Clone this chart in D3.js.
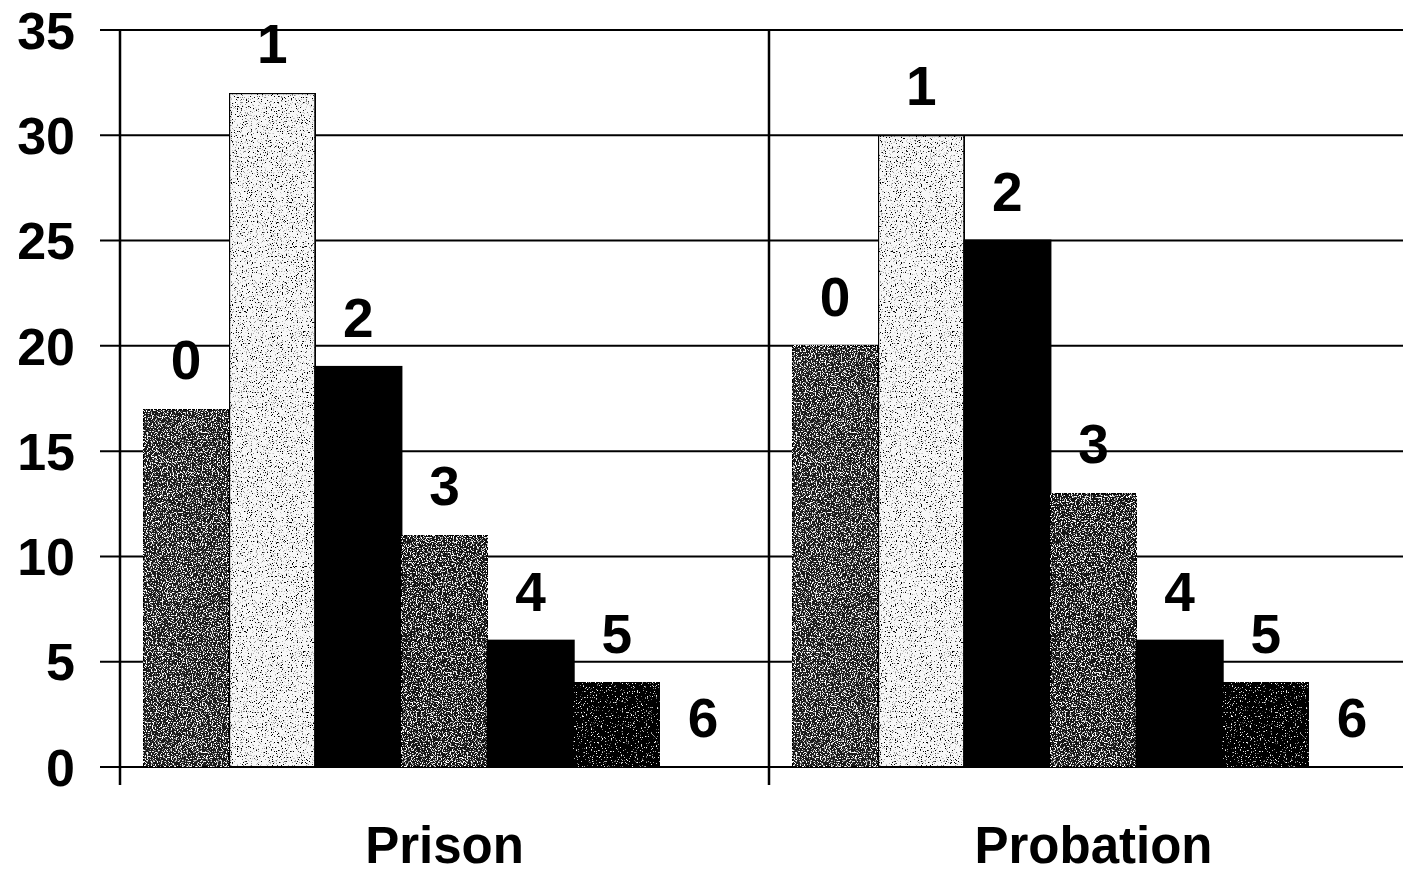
<!DOCTYPE html>
<html>
<head>
<meta charset="utf-8">
<script src="https://cdn.jsdelivr.net/npm/d3@7"></script>
<style>
  body { margin: 0; background: #fff; }
  svg { display: block; }
  text { font-family: "Liberation Sans", Arial, sans-serif; font-weight: bold; fill: #000; }
</style>
</head>
<body>
<div id="chart"></div>
<script>
var categories = ["Prison", "Probation"];
var groups = ["0", "1", "2", "3", "4", "5", "6"];
var prison = [17, 32, 19, 11, 6, 4, 0];
var probation = [20, 30, 25, 13, 6, 4, 0];
var yTicks = [0, 5, 10, 15, 20, 25, 30, 35];

// bar styles for each group: base fill, and speckle filter
var barFill = ["#1c1c1c", "#f7f7f7", "#000", "#161616", "#000", "#050505", "#fff"];
var barSpeckle = ["whiteDense", "blackSparse", null, "whiteDense", null, "whiteSparse", null];

var svgWidth = 1403;
var svgHeight = 874;

var svg = d3.select("#chart")
  .append("svg")
  .attr("width", svgWidth)
  .attr("height", svgHeight);

// speckle filters to mimic the scanned stipple fill
var defs = svg.append("defs");
function speckle(id, color, slope, offset) {
  var f = defs.append("filter").attr("id", id)
    .attr("x", 0).attr("y", 0).attr("width", 1).attr("height", 1);
  f.append("feTurbulence").attr("type", "fractalNoise")
    .attr("baseFrequency", 0.8).attr("numOctaves", 2).attr("seed", 3).attr("result", "noise");
  f.append("feColorMatrix").attr("in", "noise").attr("type", "matrix")
    .attr("values", "0 0 0 0 0  0 0 0 0 0  0 0 0 0 0  " + slope + " 0 0 0 " + offset)
    .attr("result", "mask");
  f.append("feFlood").attr("flood-color", color).attr("result", "col");
  f.append("feComposite").attr("in", "col").attr("in2", "mask").attr("operator", "in").attr("result", "dots");
  f.append("feComposite").attr("in", "dots").attr("in2", "SourceAlpha").attr("operator", "in").attr("result", "dotsClip");
  var m = f.append("feMerge");
  m.append("feMergeNode").attr("in", "SourceGraphic");
  m.append("feMergeNode").attr("in", "dotsClip");
}
speckle("whiteDense", "#fff", 9, -4.85);
speckle("whiteSparse", "#fff", 9, -5.8);
speckle("blackSparse", "#000", 9, -5.3);

var x0 = d3.scaleBand()
  .domain(categories)
  .range([120, 1418])
  .paddingInner(0)
  .paddingOuter(0);

var x1 = d3.scaleBand()
  .domain(groups)
  .range([0, x0.bandwidth()])
  .paddingInner(0)
  .paddingOuter(0.267);

var y = d3.scaleLinear()
  .domain([0, 35])
  .range([767, 30]);

// gridlines with left tick marks
svg.append("g").selectAll("line")
  .data(yTicks)
  .enter()
  .append("line")
  .attr("x1", 100)
  .attr("x2", svgWidth)
  .attr("y1", d => y(d))
  .attr("y2", d => y(d))
  .attr("stroke", "#000")
  .attr("stroke-width", 2);

// y tick labels
svg.append("g").selectAll("text")
  .data(yTicks)
  .enter()
  .append("text")
  .attr("x", 75)
  .attr("y", d => y(d))
  .attr("dy", "0.36em")
  .attr("text-anchor", "end")
  .style("font-size", "52px")
  .text(d => d);

// vertical axis and category dividers
svg.append("g").selectAll("line")
  .data(categories.concat(["end"]))
  .enter()
  .append("line")
  .attr("x1", (d, i) => i < categories.length ? x0(d) : x0.range()[1])
  .attr("x2", (d, i) => i < categories.length ? x0(d) : x0.range()[1])
  .attr("y1", y(35))
  .attr("y2", y(0) + 18)
  .attr("stroke", "#000")
  .attr("stroke-width", 2.5);

var series = [prison, probation];

categories.forEach(function(cat, ci) {
  var g = svg.append("g")
    .attr("transform", `translate(${x0(cat)}, 0)`);

  var data = groups.map((grp, i) => ({ grp: grp, i: i, value: series[ci][i] }));

  g.selectAll("rect")
    .data(data.filter(d => d.value > 0))
    .enter()
    .append("rect")
    .attr("x", d => x1(d.grp))
    .attr("y", d => y(d.value))
    .attr("width", x1.bandwidth())
    .attr("height", d => y(0) - y(d.value))
    .attr("fill", d => barFill[d.i])
    .attr("filter", d => barSpeckle[d.i] ? `url(#${barSpeckle[d.i]})` : null)
    .attr("stroke", "#000")
    .attr("stroke-width", 2);

  g.selectAll("text.val")
    .data(data)
    .enter()
    .append("text")
    .attr("class", "val")
    .attr("x", d => x1(d.grp) + x1.bandwidth() / 2)
    .attr("y", d => y(d.value) - 30)
    .attr("text-anchor", "middle")
    .style("font-size", "55px")
    .text(d => d.grp);

  g.append("text")
    .attr("x", x0.bandwidth() / 2)
    .attr("y", 863)
    .attr("text-anchor", "middle")
    .style("font-size", "51px")
    .text(cat);
});
</script>
</body>
</html>
